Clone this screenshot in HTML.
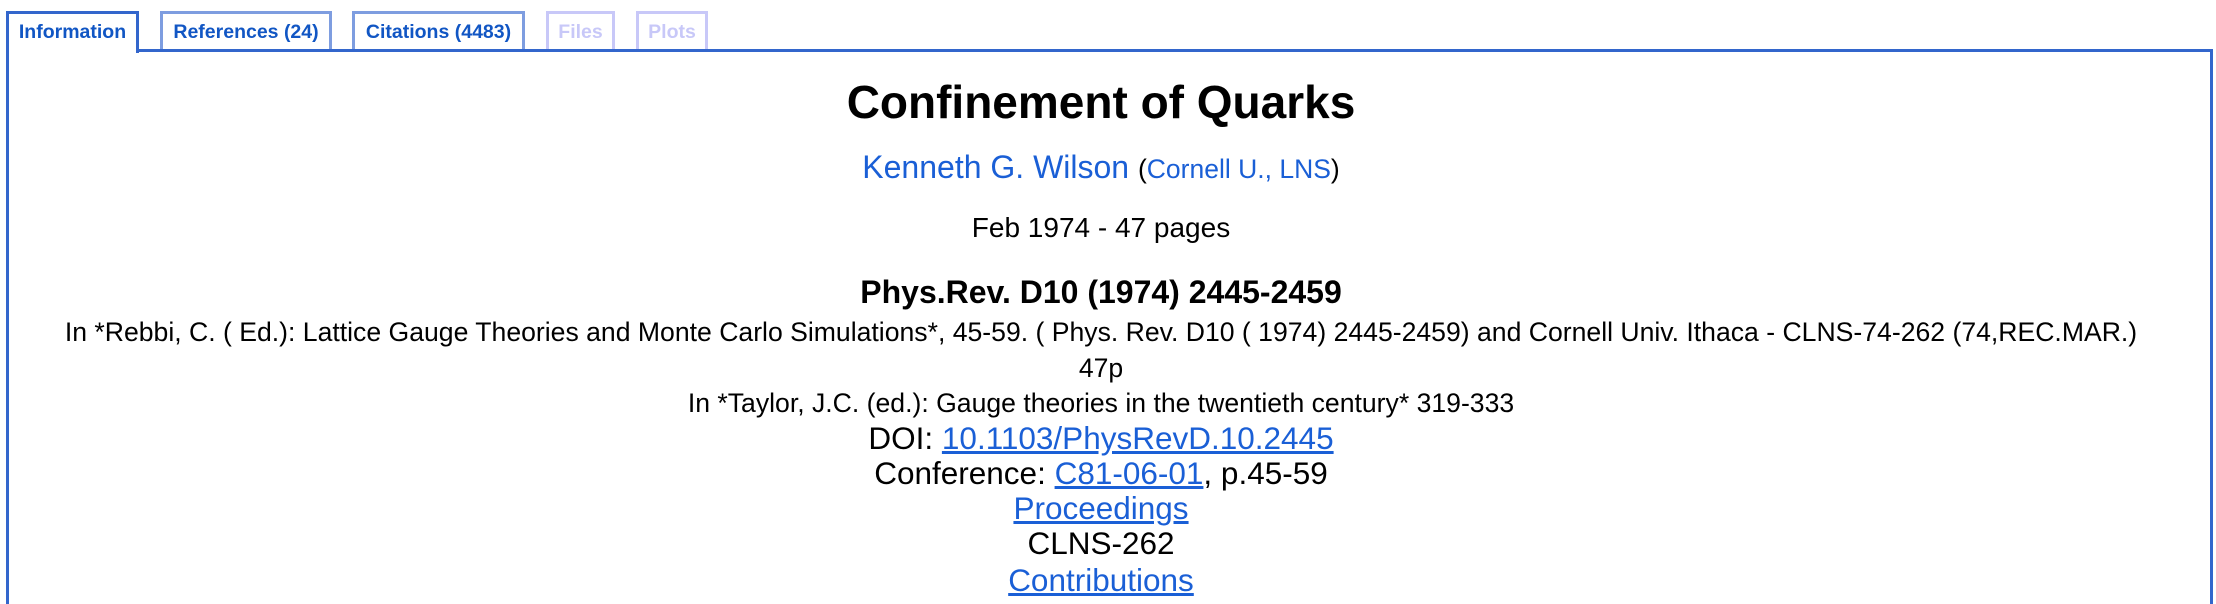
<!DOCTYPE html>
<html><head><meta charset="utf-8"><style>
html,body{margin:0;padding:0;background:#fff;width:2216px;height:604px;overflow:hidden;font-family:"Liberation Sans",Arial,sans-serif;}
.tab{position:absolute;top:11px;height:38px;border:3px solid #7e9de0;border-bottom:none;box-sizing:border-box;font-weight:bold;font-size:19.5px;color:#1156c4;text-align:center;line-height:36px;}
.box{position:absolute;left:6px;top:49px;width:2207px;height:555px;border:3px solid #3366cc;border-bottom:none;box-sizing:border-box;}
.ln{position:absolute;left:0;width:2202px;text-align:center;white-space:nowrap;color:#000;height:40px;line-height:40px;}
a{color:#1a5fd6;text-decoration:underline;}
.blue{color:#1a5fd6;}
</style></head><body>
<div class="box"></div>
<div class="tab" style="left:6px;width:133px;height:42px;border-color:#3366cc;background:#fff;z-index:2;">Information</div>
<div class="tab" style="left:160px;width:172px;">References (24)</div>
<div class="tab" style="left:352px;width:173px;">Citations (4483)</div>
<div class="tab" style="left:546px;width:69px;border-color:#c8c8f8;color:#c8c8f8;">Files</div>
<div class="tab" style="left:636px;width:72px;border-color:#c8c8f8;color:#c8c8f8;">Plots</div>

<div class="ln" style="top:76px;height:52px;line-height:52px;font-size:46px;font-weight:bold;">Confinement of Quarks</div>
<div class="ln" style="top:147px;font-size:32px;"><span class="blue">Kenneth G. Wilson</span> <span style="font-size:26.5px">(<span class="blue">Cornell U., LNS</span>)</span></div>
<div class="ln" style="top:208px;font-size:28px;">Feb 1974 - 47 pages</div>
<div class="ln" style="top:272px;font-size:32px;font-weight:bold;">Phys.Rev. D10 (1974) 2445-2459</div>
<div class="ln" style="top:312px;font-size:26.6px;">In *Rebbi, C. ( Ed.): Lattice Gauge Theories and Monte Carlo Simulations*, 45-59. ( Phys. Rev. D10 ( 1974) 2445-2459) and Cornell Univ. Ithaca - CLNS-74-262 (74,REC.MAR.)</div>
<div class="ln" style="top:348px;font-size:26.6px;">47p</div>
<div class="ln" style="top:383px;font-size:26.6px;">In *Taylor, J.C. (ed.): Gauge theories in the twentieth century* 319-333</div>
<div class="ln" style="top:418px;font-size:31.5px;">DOI: <a>10.1103/PhysRevD.10.2445</a></div>
<div class="ln" style="top:453px;font-size:31.5px;">Conference: <a>C81-06-01</a>, p.45-59</div>
<div class="ln" style="top:488px;font-size:31.5px;"><a>Proceedings</a></div>
<div class="ln" style="top:523px;font-size:31.5px;">CLNS-262</div>
<div class="ln" style="top:560px;font-size:31.5px;"><a>Contributions</a></div>
</body></html>
